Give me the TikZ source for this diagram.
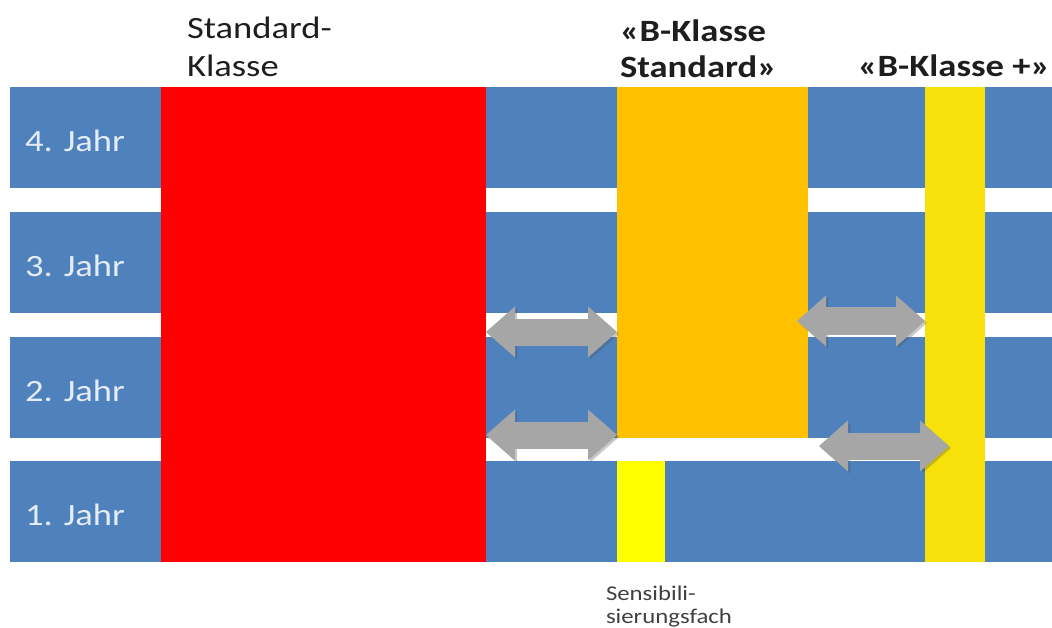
\documentclass[tikz,border=0pt]{standalone}
\usepackage{fontspec}
\setmainfont{Carlito}
\usepackage{graphicx}
\usetikzlibrary{arrows.meta,positioning}

\definecolor{bandblue}{HTML}{4F81BD}
\definecolor{stdred}{HTML}{FF0000}
\definecolor{stdorange}{HTML}{FFC000}
\definecolor{sensyellow}{HTML}{FFFF00}
\definecolor{plusyellow}{HTML}{F6E20A}
\definecolor{arrowgray}{HTML}{A6A6A6}
\definecolor{labelwhite}{HTML}{E4ECF6}
\definecolor{titleblack}{HTML}{1E1E1E}

\newcommand{\wide}[1]{\scalebox{1.18}[1]{#1}}

\begin{document}
\begin{tikzpicture}[x=1pt, y=-1pt,
                    every node/.style={inner sep=0pt, outer sep=0pt},
                    band/.style={fill=bandblue, minimum width=1042pt, minimum height=101pt, anchor=north west},
                    block/.style={anchor=north west},
                    yearlbl/.style={text=labelwhite, font=\fontsize{31}{37}\selectfont, anchor=base west},
                    title/.style={text=titleblack, font=\fontsize{31}{38}\selectfont, anchor=base west},
                    note/.style={text=titleblack!85, font=\fontsize{21}{23}\selectfont, anchor=base west},
                    link/.style={draw=arrowgray, line width=27pt,
                                 >={Triangle[length=29pt,width=51pt,line width=0pt]}, <->,
                                 preaction={draw=black!70, opacity=.3, transform canvas={shift={(2pt,-2pt)}}}}]
    \useasboundingbox (0,0) rectangle (1052,628);

   % school years
   \foreach \j/\top in {4/87,3/212,2/337,1/461} {
     \node[band] (year_\j) at (10,\top) {};
     \node[yearlbl] at ([xshift=15pt, yshift=-14pt]year_\j.west) {\wide{\j. Jahr}};
   }

   \node[block, fill=stdred, minimum width=325pt, minimum height=475pt] (std_class) at (161,87) {};
   \node[block, fill=stdorange, minimum width=191pt, minimum height=351pt] (b_std) at (617,87) {};
   \node[block, fill=sensyellow, minimum width=48pt, minimum height=101pt] (sens) at (617,461) {};
   \node[block, fill=plusyellow, minimum width=60pt, minimum height=475pt] (b_plus) at (925,87) {};

   \node[title] (std_title) at (187,39) {\wide{\begin{tabular}[t]{@{}l@{}}Standard-\\Klasse\end{tabular}}};
   \node[title, font=\fontsize{31}{36}\selectfont\bfseries] (b_std_title) at (620,42) {\wide{\begin{tabular}[t]{@{}l@{}}«B-Klasse\\Standard»\end{tabular}}};
   \node[title, font=\fontsize{31}{38}\selectfont\bfseries] (b_plus_title) at (858,77) {\wide{«B-Klasse +»}};
   \node[note] (sens_title) at (606,600) {\wide{\begin{tabular}[t]{@{}l@{}}Sensibili-\\sierungsfach\end{tabular}}};

   % Define transfers
   \coordinate (a3_start) at (797,321);
   \coordinate (a4_start) at (819,446);
   \coordinate (a4_end) at (949,446);
   \draw[link] (std_class.east |- 0,332) -- (b_std.west |- 0,332);
   \draw[link] (std_class.east |- 0,435) -- (b_std.west |- 0,435);
   \draw[link] (a3_start) -- (b_plus.west |- a3_start);
   \draw[link] (a4_start) -- (a4_end);

\end{tikzpicture}
\end{document}
